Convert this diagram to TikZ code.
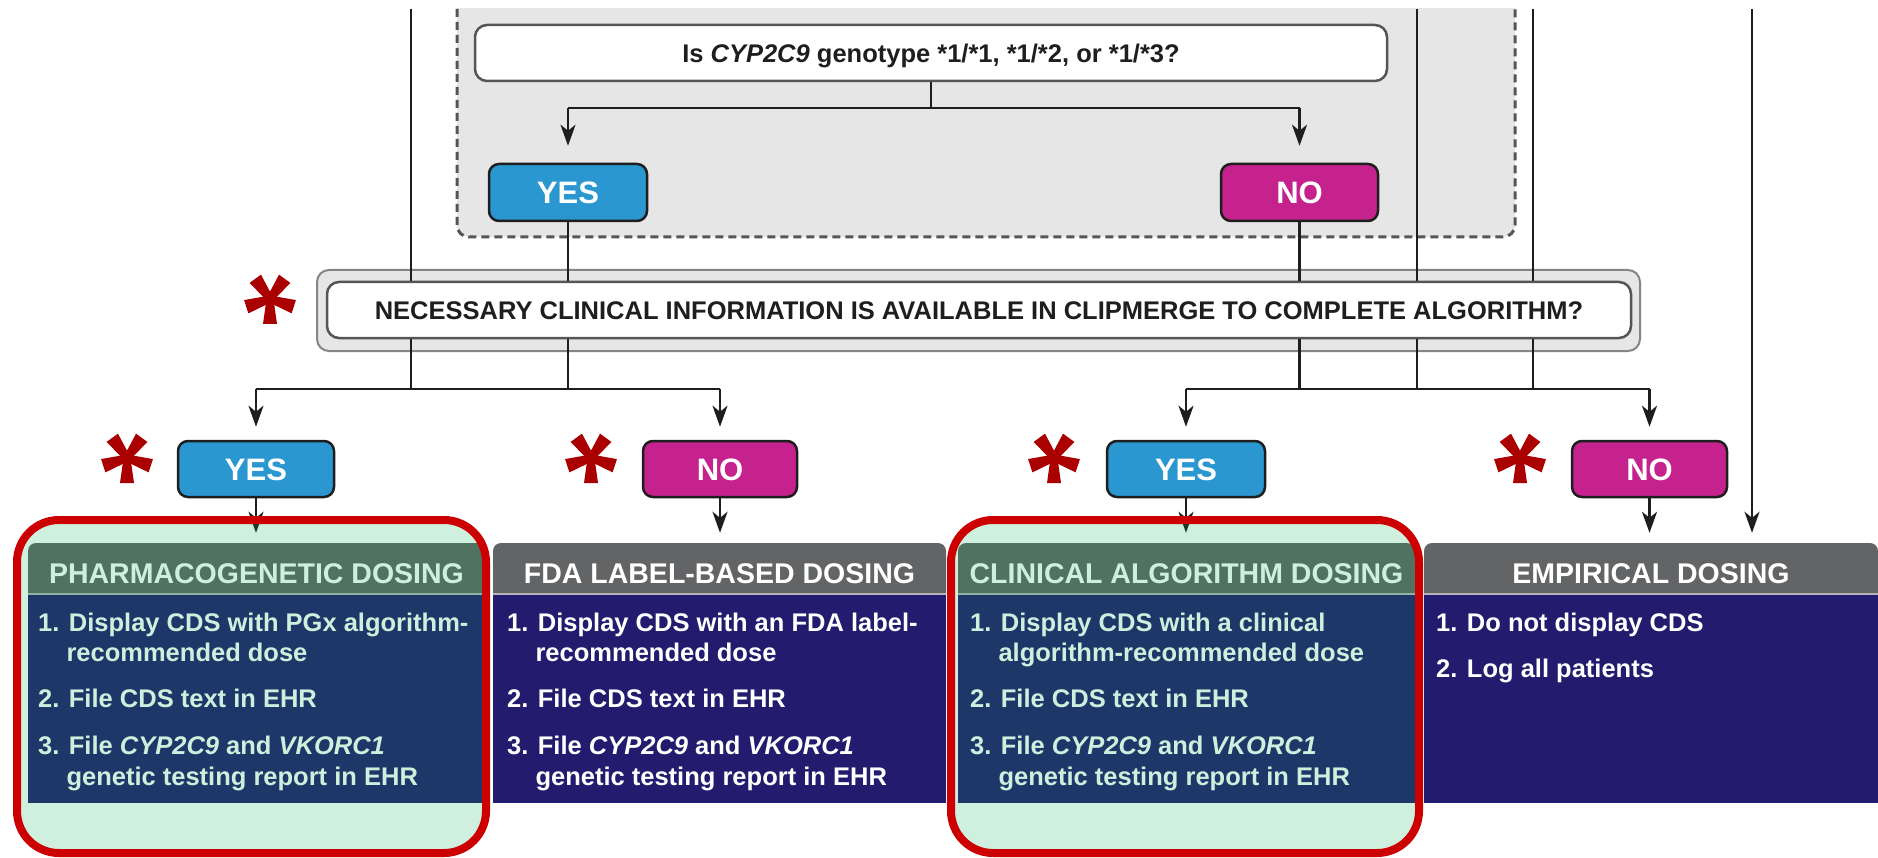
\documentclass[tikz,border=0pt]{standalone}
\usepackage{fontspec}
\setmainfont{Liberation Sans}
\usetikzlibrary{arrows.meta}
\definecolor{ink}{HTML}{1E1E1E}
\definecolor{yesblue}{HTML}{2A97D1}
\definecolor{nomag}{HTML}{C5228E}
\definecolor{hdgrey}{HTML}{636466}
\definecolor{bodyind}{HTML}{231C6E}
\definecolor{panelgrey}{HTML}{E6E6E6}
\definecolor{boxline}{HTML}{555555}
\definecolor{outerline}{HTML}{858585}
\definecolor{asterred}{HTML}{AA0000}
\definecolor{hlred}{HTML}{CC0000}
\definecolor{hlgreen}{RGB}{0,175,80}
\definecolor{sepgrey}{HTML}{B4B4B8}
\begin{document}
\begin{tikzpicture}[x=1pt,y=-1pt,
  conn/.style={draw=ink,line width=2.5pt},
  arr/.style={conn,-{Stealth[length=21pt,width=15pt,inset=6pt]}},
  ansbox/.style={draw=ink,line width=2.5pt,rounded corners=10pt,inner sep=0pt,text=white,
    font=\fontsize{31}{31}\selectfont\bfseries,text height=22.2pt,text depth=0pt},
  yesbox/.style={ansbox,fill=yesblue},
  nobox/.style={ansbox,fill=nomag},
  qbox/.style={draw=boxline,line width=2.5pt,fill=white,rounded corners=12pt,inner sep=0pt,
    font=\fontsize{25.5}{25.5}\selectfont\bfseries,text=ink,text height=18.3pt,text depth=0pt},
  hdbox/.style={fill=hdgrey,rounded corners=8pt,inner sep=0pt,text=white,minimum height=60pt,
    font=\fontsize{28.5}{28.5}\selectfont\bfseries,text height=20.4pt,text depth=0pt},
  bdbox/.style={fill=bodyind,inner sep=0pt,minimum height=208pt},
  bodytext/.style={inner sep=0pt,anchor=base west,text=white,font=\fontsize{25.5}{30}\selectfont\bfseries},
  highlight/.style={draw=hlred,line width=8pt,fill=hlgreen,fill opacity=0.19,rounded corners=42pt},
  redast/.pic={
    \foreach \a in {-90,-18,54,126,198}{
      \fill[asterred,rotate=\a] (0,-3.5) -- (25,-7) -- (25,7) -- (0,3.5) -- cycle;}
    \fill[asterred] (0,0) circle (4.5);}
]
\useasboundingbox (0,0) rectangle (1878,858);

% dashed grey panel (cut at the top)
\begin{scope}
  \clip (0,9) rectangle (1878,858);
  \path[fill=panelgrey,rounded corners=12pt] (457,-30) -- (457,237) -- (1515,237) -- (1515,-30) -- cycle;
  \draw[boxline,line width=3pt,dash pattern=on 8pt off 5pt,rounded corners=12pt]
    (457,-30) -- (457,237) -- (1515,237) -- (1515,-30);
\end{scope}

% decision nodes
\node[qbox,minimum width=912pt,minimum height=56pt] (q) at (931,53)
  {Is \textit{CYP2C9} genotype *1/*1, *1/*2, or *1/*3?};
\node[yesbox,minimum width=158pt,minimum height=57pt] (yesA) at (568,192.5) {YES};
\node[nobox,minimum width=157pt,minimum height=57pt] (noA) at (1299.5,192.5) {NO};

\node[fill=panelgrey,draw=outerline,line width=2pt,rounded corners=12pt,inner sep=0pt,
  minimum width=1323pt,minimum height=81pt] (necbg) at (978.5,310.5) {};
\node[qbox,minimum width=1304pt,minimum height=56pt] (nec) at (979,310)
  {NECESSARY CLINICAL INFORMATION IS AVAILABLE IN CLIPMERGE TO COMPLETE ALGORITHM?};

\node[yesbox,minimum width=156pt,minimum height=56pt] (yesB) at (256,469) {YES};
\node[nobox,minimum width=154pt,minimum height=56pt] (noB) at (720,469) {NO};
\node[yesbox,minimum width=158pt,minimum height=56pt] (yesC) at (1186,469) {YES};
\node[nobox,minimum width=155pt,minimum height=56pt] (noC) at (1649.5,469) {NO};

\pic at (270,299) {redast};
\pic at (127,458) {redast};
\pic at (591,458) {redast};
\pic at (1054,458) {redast};
\pic at (1520,458) {redast};

% free ends and junctions
\coordinate (t1) at (411,9);
\coordinate (t2) at (1417,9);
\coordinate (t3) at (1533,9);
\coordinate (t4) at (1752,9);
\coordinate (qj) at (931,108);
\coordinate (jL) at (411,389);
\coordinate (jR) at (1417,389);

% top decision
\draw[conn] (q.south) -- (qj);
\draw[conn] (yesA.north |- qj) -- (noA.north |- qj);
\draw[arr,shorten >=17pt] (yesA.north |- qj) -- (yesA.north);
\draw[arr,shorten >=17pt] (noA.north |- qj) -- (noA.north);

% lines into / out of the clinical information box
\draw[conn] (t1) -- (t1 |- nec.north);
\draw[conn] (t1 |- nec.south) -- (jL);
\draw[conn] (yesA.south) -- (yesA.south |- nec.north);
\draw[conn] (yesA.south |- nec.south) -- (yesA.south |- jL);
\draw[conn] (noA.south) -- (noA.south |- nec.north);
\draw[conn] (noA.south |- nec.south) -- (noA.south |- jR);
\draw[conn] (t2) -- (t2 |- nec.north);
\draw[conn] (t2 |- nec.south) -- (jR);
\draw[conn] (t3) -- (t3 |- nec.north);
\draw[conn] (t3 |- nec.south) -- (t3 |- jR);

\draw[conn] (yesB.north |- jL) -- (noB.north |- jL);
\draw[arr,shorten >=13pt] (yesB.north |- jL) -- (yesB.north);
\draw[arr,shorten >=13pt] (noB.north |- jL) -- (noB.north);
\draw[conn] (yesC.north |- jR) -- (noC.north |- jR);
\draw[arr,shorten >=13pt] (yesC.north |- jR) -- (yesC.north);
\draw[arr,shorten >=13pt] (noC.north |- jR) -- (noC.north);

% dosing columns
\node[hdbox,minimum width=457pt] (hdA) at (256.5,573) {PHARMACOGENETIC DOSING};
\node[hdbox,minimum width=453pt] (hdB) at (719.5,573) {FDA LABEL-BASED DOSING};
\node[hdbox,minimum width=457pt] (hdC) at (1186.5,573) {CLINICAL ALGORITHM DOSING};
\node[hdbox,minimum width=454pt] (hdD) at (1651,573) {EMPIRICAL DOSING};
\node[bdbox,minimum width=457pt] (bdA) at (256.5,699) {};
\node[bdbox,minimum width=453pt] (bdB) at (719.5,699) {};
\node[bdbox,minimum width=457pt] (bdC) at (1186.5,699) {};
\node[bdbox,minimum width=454pt] (bdD) at (1651,699) {};
\foreach \b in {bdA,bdB,bdC,bdD}
  \draw[sepgrey,line width=2pt] ([yshift=1pt]\b.north west) -- ([yshift=1pt]\b.north east);

\draw[arr,shorten >=10pt] (yesB.south) -- (yesB.south |- hdA.north);
\draw[arr,shorten >=10pt] (noB.south) -- (noB.south |- hdB.north);
\draw[arr,shorten >=10pt] (yesC.south) -- (yesC.south |- hdC.north);
\draw[arr,shorten >=10pt] (noC.south) -- (noC.south |- hdD.north);
\draw[arr,shorten >=10pt] (t4) -- (t4 |- hdD.north);

% body texts
\node[bodytext] (a1) at (38,631) {1. Display CDS with PGx algorithm-};
\node[bodytext] (a1b) at (38,661) {\hphantom{1.\ }recommended dose};
\node[bodytext] (a2) at (38,707) {2. File CDS text in EHR};
\node[bodytext] (a3) at (38,754) {3. File \textit{CYP2C9} and \textit{VKORC1}};
\node[bodytext] (a3b) at (38,785) {\hphantom{3.\ }genetic testing report in EHR};

\node[bodytext] (b1) at (507,631) {1. Display CDS with an FDA label-};
\node[bodytext] (b1b) at (507,661) {\hphantom{1.\ }recommended dose};
\node[bodytext] (b2) at (507,707) {2. File CDS text in EHR};
\node[bodytext] (b3) at (507,754) {3. File \textit{CYP2C9} and \textit{VKORC1}};
\node[bodytext] (b3b) at (507,785) {\hphantom{3.\ }genetic testing report in EHR};

\node[bodytext] (c1) at (970,631) {1. Display CDS with a clinical};
\node[bodytext] (c1b) at (970,661) {\hphantom{1.\ }algorithm-recommended dose};
\node[bodytext] (c2) at (970,707) {2. File CDS text in EHR};
\node[bodytext] (c3) at (970,754) {3. File \textit{CYP2C9} and \textit{VKORC1}};
\node[bodytext] (c3b) at (970,785) {\hphantom{3.\ }genetic testing report in EHR};

\node[bodytext] (d1) at (1436,631) {1. Do not display CDS};
\node[bodytext] (d2) at (1436,677) {2. Log all patients};

% highlight frames
\path[highlight] (17,520) rectangle (486,853);
\path[highlight] (951,520) rectangle (1419,853);
\end{tikzpicture}
\end{document}
